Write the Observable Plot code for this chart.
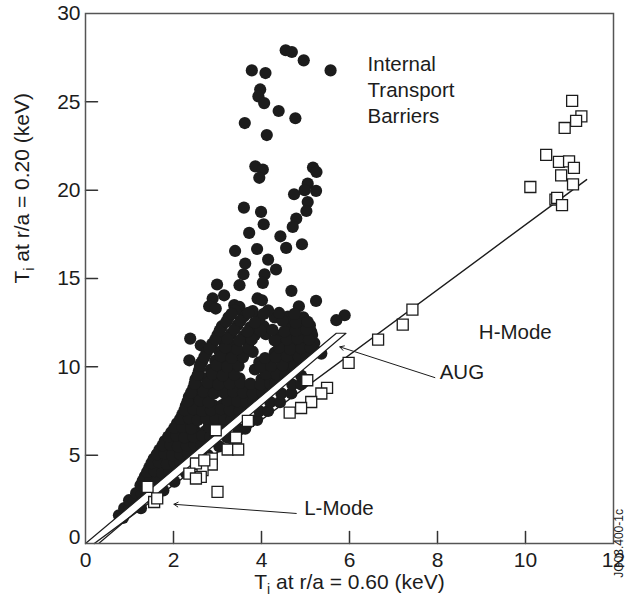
<!DOCTYPE html>
<html><head><meta charset="utf-8">
<script src="https://cdn.jsdelivr.net/npm/d3@7"></script>
<script src="https://cdn.jsdelivr.net/npm/@observablehq/plot@0.6"></script>
<style>
html,body{margin:0;padding:0;background:#fff;}
#chart svg{display:block;}
</style></head><body><div id="chart"></div>
<script>
// Tick values
const xTicks = [0, 2, 4, 6, 8, 10, 12];
const yTicks = [0, 5, 10, 15, 20, 25, 30];
const xInnerTicks = [2, 4, 6, 8, 10];
const yInnerTicks = [5, 10, 15, 20, 25];

// Internal Transport Barrier discharges (filled circles): [Ti(0.60), Ti(0.20)]
const itbUpper = [
  [4.55,27.92],[4.69,27.82],[4.96,27.35],[5.57,26.78],[3.78,26.78],[4.09,26.63],[3.97,25.7],[3.93,25.31],
  [4.06,24.93],[4.39,24.48],[4.77,24.07],[3.62,23.8],[4.12,23.12],[3.86,21.35],[4.03,21.17],[5.17,21.28],
  [5.25,21.03],[3.95,20.7],[5.05,20.37],[5.24,19.96],[4.98,20.0],[4.74,19.77],[5.05,19.33],[5.02,18.82],
  [3.6,19.01],[3.99,18.77],[4.05,18.07],[4.79,18.39],[4.71,17.92],[3.72,17.58],[4.43,17.39],[4.92,16.94],
  [4.56,16.73],[3.4,16.56],[3.9,16.67],[4.15,16.07],[3.63,15.85],[4.33,15.51],[3.59,15.24],[4.07,15.24],
  [4.03,14.75],[2.99,14.66],[3.5,14.62],[4.68,14.3],[2.89,13.87],[3.15,14.05],[3.91,13.87],[4.01,13.77],
  [5.24,13.73],[4.85,13.43],[2.81,13.43],[3.38,13.49],[3.5,13.39],[2.96,13.3],[5.89,12.92],[5.7,12.64],
  [5.13,11.98],[5.36,10.75],[5.28,10.84],[2.38,11.6],[2.62,11.22],[2.36,10.37],[2.62,10.19]
];
const itbCloud = [
  [0.76,1.6],[0.85,1.45],[0.88,2.0],[1.0,1.95],[0.99,2.45],[1.1,2.4],[1.15,2.85],[1.28,2.8],
  [1.25,3.3],[1.4,3.35],[1.35,3.8],[1.52,3.85],[1.7,3.75],
  [1.45,4.3],[1.62,4.35],[1.8,4.25],[1.98,4.3],
  [1.55,4.8],[1.72,4.85],[1.9,4.75],[2.08,4.8],[2.25,4.75],
  [1.68,5.3],[1.86,5.35],[2.04,5.25],[2.22,5.3],[2.4,5.35],[2.52,5.3],
  [1.8,5.8],[1.98,5.85],[2.16,5.75],[2.36,5.8],[2.56,5.85],[2.74,5.8],
  [1.95,6.3],[2.13,6.35],[2.32,6.25],[2.52,6.3],[2.72,6.35],[2.92,6.3],
  [2.08,6.8],[2.26,6.85],[2.46,6.75],[2.86,6.85],[3.05,6.8],[3.2,6.75],
  [2.2,7.3],[2.4,7.35],[2.6,7.25],[2.8,7.3],[3.0,7.35],[3.2,7.3],[3.42,7.25],
  [2.28,7.8],[2.5,7.85],[2.7,7.75],[2.92,7.8],[3.12,7.85],[3.35,7.8],[3.55,7.75],[3.68,7.8],
  [2.35,8.3],[2.56,8.35],[2.8,8.25],[3.25,8.35],[3.46,8.3],[3.7,8.25],[3.92,8.3],
  [2.45,8.8],[2.66,8.85],[2.9,8.75],[3.15,8.8],[3.4,8.85],[3.62,8.8],[3.85,8.75],[4.05,8.8],[4.18,8.85],
  [2.5,9.3],[2.75,9.35],[3.0,9.25],[3.25,9.3],[3.5,9.35],[4.0,9.3],[4.25,9.25],[4.42,9.3],
  [2.58,9.8],[2.85,9.85],[3.1,9.75],[3.35,9.8],[3.85,9.85],[4.1,9.75],[4.35,9.8],[4.6,9.85],
  [2.65,10.3],[2.95,10.35],[3.2,10.25],[3.45,10.3],[3.95,10.25],[4.2,10.3],[4.45,10.35],[4.7,10.3],[4.9,10.25],
  [2.75,10.8],[3.05,10.85],[3.3,10.75],[3.55,10.8],[3.8,10.85],[4.3,10.8],[4.55,10.85],[4.8,10.75],[5.05,10.8],
  [2.88,11.3],[3.15,11.35],[3.4,11.25],[3.7,11.3],[4.45,11.3],[4.7,11.25],[4.95,11.3],[5.2,11.35],
  [3.0,11.8],[3.3,11.85],[3.6,11.75],[3.85,11.8],[4.1,11.85],[4.4,11.75],[4.65,11.8],[4.9,11.85],[5.15,11.8],
  [3.1,12.3],[3.45,12.35],[3.75,12.25],[4.05,12.3],[4.6,12.25],[4.85,12.3],[5.1,12.35],
  [3.25,12.8],[3.6,12.85],[3.95,12.75],[4.3,12.8],[4.6,12.85],[4.95,12.8],
  [3.4,13.2],[3.8,13.15],[4.15,13.2]
];
const itbCloudFill = [
  [1.3,3.55],[1.47,3.6],[1.62,3.55],
  [1.4,4.05],[1.57,4.1],[1.74,4.0],[1.9,4.05],
  [1.5,4.55],[1.67,4.6],[1.85,4.5],[2.03,4.55],[2.15,4.6],
  [1.62,5.05],[1.8,5.1],[1.97,5.0],[2.15,5.05],[2.33,5.1],
  [1.75,5.55],[1.93,5.6],[2.1,5.5],[2.3,5.55],[2.48,5.6],[2.64,5.55],
  [1.88,6.05],[2.06,6.1],[2.25,6.0],[2.45,6.05],[2.65,6.1],[2.84,6.05],
  [2.02,6.55],[2.2,6.6],[2.4,6.5],[2.8,6.6],[3.0,6.55],[3.1,6.5],
  [2.15,7.05],[2.35,7.1],[2.55,7.0],[2.75,7.05],[2.95,7.1],[3.15,7.05],[3.32,7.0],
  [2.25,7.55],[2.45,7.6],[2.65,7.5],[2.85,7.55],[3.08,7.6],[3.28,7.55],[3.5,7.5],
  [2.32,8.05],[2.6,8.1],[2.8,8.0],[3.22,8.1],[3.45,8.05],[3.65,8.0],[3.82,8.05],
  [2.4,8.55],[2.68,8.6],[2.92,8.5],[3.14,8.55],[3.36,8.6],[3.58,8.55],[3.8,8.5],[4.02,8.55],
  [2.48,9.05],[2.78,9.1],[3.02,9.0],[3.28,9.05],[3.52,9.1],[3.75,9.05],[3.98,9.0],[4.2,9.05],[4.32,9.1],
  [2.55,9.55],[2.88,9.6],[3.12,9.5],[3.38,9.55],[4.1,9.6],[4.35,9.55],[4.55,9.5],
  [2.6,10.05],[2.98,10.1],[3.22,10.0],[3.48,10.05],[3.98,10.0],[4.22,10.05],[4.48,10.1],[4.75,10.05],
  [2.7,10.55],[3.08,10.6],[3.32,10.5],[3.58,10.55],[4.08,10.5],[4.32,10.55],[4.58,10.6],[4.85,10.55],[5.02,10.5],
  [2.82,11.05],[3.18,11.1],[3.45,11.0],[3.7,11.05],[4.4,11.1],[4.65,11.0],[4.9,11.05],[5.12,11.1],
  [2.95,11.55],[3.22,11.6],[3.5,11.5],[3.78,11.55],[4.3,11.5],[4.58,11.55],[4.82,11.6],[5.08,11.55],
  [3.05,12.05],[3.38,12.1],[3.68,12.0],[3.98,12.05],[4.25,12.1],[4.52,12.0],[4.78,12.05],[5.02,12.1],
  [3.2,12.55],[3.52,12.6],[3.85,12.5],[4.48,12.6],[4.78,12.5],[5.05,12.55],
  [3.32,13.0],[3.7,13.05],[4.05,13.0],[4.4,13.05],[4.75,13.0]
];
const itbBelowBand = [
  [1.26,2.0],[1.52,2.5],[1.77,3.0],[2.02,3.5],[2.28,4.0],[2.53,4.5],[2.78,5.0],[3.04,5.5],
  [3.22,6.0],[3.38,6.0],[3.47,6.5],[3.63,6.5],[3.7,7.0],[3.9,7.0],[3.95,7.5],[4.15,7.5],
  [4.2,8.0],[4.42,8.0],[4.45,8.5],[4.68,8.5],[4.7,9.0],[4.9,9.0],[4.9,9.5]
];

// H-mode discharges (open squares)
const hMode = [
  [11.06,25.05],[11.27,24.18],[11.15,23.92],[10.89,23.52],[10.47,22.0],[10.76,21.6],[10.99,21.63],
  [11.1,21.26],[10.81,20.84],[11.08,20.33],[10.11,20.18],[10.68,19.47],[10.72,19.56],[10.83,19.15],
  [7.43,13.24],[7.21,12.39],[6.65,11.54],[5.98,10.22],[5.04,9.24],[5.49,8.81],[5.36,8.49],[5.13,8.01],
  [4.9,7.67],[4.64,7.41],[3.69,6.94],[3.42,6.0],[3.23,5.32],[3.47,5.32],[2.96,6.41],[2.87,4.81],
  [2.87,4.47],[2.66,4.15],[2.62,3.77],[3.0,2.92],[2.51,4.53],[2.36,3.96],[2.51,3.68],[2.7,4.71],
  [1.41,3.2],[1.56,2.35],[1.63,2.55]
];

// H-mode scaling line and AUG band outline
const fitLine = [[0.2,0],[11.39,20.6]];
const augBand = [[0,0],[5.7,11.9],[5.92,11.9],[0.3,0],[0,0]];

// Annotations
const noteText = ["Internal\nTransport\nBarriers", "H-Mode", "AUG", "L-Mode"];
const noteX = [6.41, 8.94, 8.05, 4.97];
const noteY = [25.76, 12.07, 9.81, 2.06];
const arrowFrom = [[7.94,9.39],[4.79,1.7]];
const arrowTo = [[5.78,11.13],[2.01,2.22]];

const notes = noteText.map((t,i) => ({t, x: noteX[i], y: noteY[i]}));
const arrows = arrowFrom.map((a,i) => ({x1:a[0], y1:a[1], x2:arrowTo[i][0], y2:arrowTo[i][1]}));
const itb = [...itbUpper, ...itbCloud, ...itbCloudFill, ...itbBelowBand];

const FONT = "Liberation Sans, Arial, Helvetica, sans-serif";
const INK = "#1c1c1c";
const AXIS = "#333";
const X_DOMAIN = [0, 12], Y_DOMAIN = [0, 30];
const TICK = 12;      // inward tick length, px
const FRAME_W = 528;  // frame width, px
const FRAME_H = 530;  // frame height, px
// inward tick segments as two-point polylines, tick length in data units
const tickLenY = (Y_DOMAIN[1] - Y_DOMAIN[0]) * TICK / FRAME_H;
const tickLenX = (X_DOMAIN[1] - X_DOMAIN[0]) * TICK / FRAME_W;
const tickPts = [
  ...xInnerTicks.flatMap(v => [{id: "x" + v, x: v, y: Y_DOMAIN[0]}, {id: "x" + v, x: v, y: Y_DOMAIN[0] + tickLenY}]),
  ...yInnerTicks.flatMap(v => [{id: "y" + v, x: X_DOMAIN[0], y: v}, {id: "y" + v, x: X_DOMAIN[0] + tickLenX, y: v}])
];

const chart = Plot.plot({
  width: 629, height: 601,
  marginLeft: 85, marginRight: 16, marginTop: 13, marginBottom: 58,
  style: {fontFamily: FONT, fontSize: "21px", color: INK, background: "white"},
  x: {domain: X_DOMAIN, label: null, axis: null},
  y: {domain: Y_DOMAIN, label: null, axis: null},
  marks: [
    Plot.dot(itb, {x: d => d[0], y: d => d[1], r: 6.1, fill: INK, stroke: "none"}),
    Plot.line(augBand, {x: d => d[0], y: d => d[1], fill: "white", stroke: INK, strokeWidth: 1.2}),
    Plot.line(fitLine, {x: d => d[0], y: d => d[1], stroke: INK, strokeWidth: 1.4}),
    Plot.dot(hMode, {x: d => d[0], y: d => d[1], symbol: "square", r: 6.2, fill: "white", stroke: INK, strokeWidth: 1.3}),
    Plot.arrow(arrows, {x1: "x1", y1: "y1", x2: "x2", y2: "y2", stroke: INK, strokeWidth: 1, headLength: 7}),
    Plot.text(notes, {x: "x", y: "y", text: "t", textAnchor: "start", lineAnchor: "middle", lineHeight: 1.27, fontSize: 20.5, fill: INK}),
    // inward ticks
    Plot.line(tickPts, {x: "x", y: "y", z: "id", stroke: AXIS, strokeWidth: 1.5}),
    Plot.frame({stroke: "#555", strokeWidth: 1.5}),
    // tick labels
    Plot.text(xTicks, {x: d => d, frameAnchor: "bottom", dy: 17, lineAnchor: "middle", fontSize: 21, fill: INK}),
    Plot.text(yTicks.slice(1), {y: d => d, frameAnchor: "left", dx: -5, textAnchor: "end", lineAnchor: "middle", fontSize: 21, fill: INK}),
    Plot.text(yTicks.slice(0, 1), {y: d => d, frameAnchor: "left", dx: -5, dy: -6, textAnchor: "end", lineAnchor: "middle", fontSize: 21, fill: INK}),
    Plot.text(["Ti at r/a = 0.60 (keV)"], {frameAnchor: "bottom", dy: 45, fontSize: 21, fill: INK}),
    Plot.text(["Ti at r/a = 0.20 (keV)"], {frameAnchor: "left", dx: -63, dy: 5, rotate: -90, fontSize: 21, fill: INK}),
    Plot.text(["JG03.400-1c"], {frameAnchor: "right", y: [1.95], dx: 6, rotate: -90, fontSize: 12, fill: INK})
  ]
});

// Subscript "i" in the axis titles
const NS = "http://www.w3.org/2000/svg";
chart.querySelectorAll("text").forEach(t => {
  const s = t.textContent;
  if (s.startsWith("Ti at")) {
    t.textContent = "";
    const a = document.createElementNS(NS, "tspan"); a.textContent = "T";
    const b = document.createElementNS(NS, "tspan"); b.textContent = "i";
    b.setAttribute("font-size", "14"); b.setAttribute("dy", "5");
    const c = document.createElementNS(NS, "tspan"); c.textContent = s.slice(2);
    c.setAttribute("dy", "-5");
    t.append(a, b, c);
  }
});
document.getElementById("chart").append(chart);
</script></body></html>
